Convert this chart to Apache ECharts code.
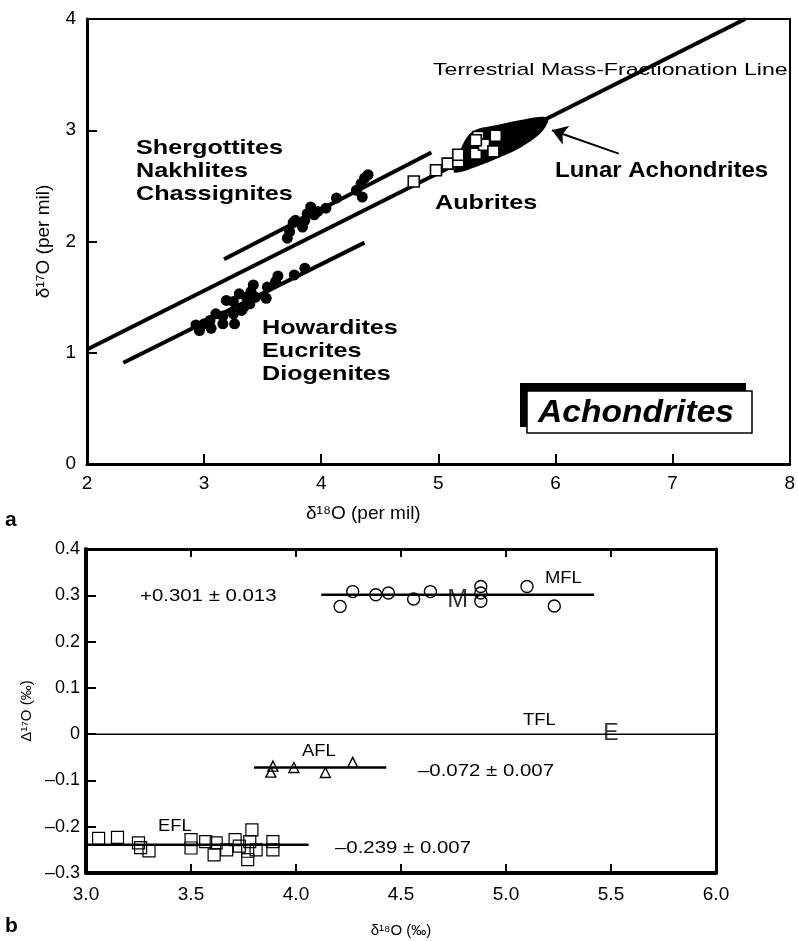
<!DOCTYPE html>
<html>
<head>
<meta charset="utf-8">
<script src="https://cdn.jsdelivr.net/npm/echarts@6/dist/echarts.min.js"></script>
<style>html,body{margin:0;padding:0;background:#fff}#c{width:798px;height:941px}</style>
</head>
<body>
<div id="c"></div>
<script>
// ---------- Panel a data ----------
const sncX = [3.71,3.73,3.76,3.78,3.84,3.86,3.88,3.91,3.94,3.97,4.04,4.13,4.30,4.34,4.35,4.37,4.40];
const sncY = [2.03,2.09,2.17,2.19,2.13,2.19,2.25,2.31,2.24,2.27,2.30,2.39,2.46,2.52,2.40,2.57,2.60];
const hedX = [3.86,3.77,3.63,3.61,3.54,3.42,3.40,3.53,3.44,3.36,3.30,3.25,3.19,3.34,3.25,3.16,3.10,3.05,3.00,2.96,3.06,3.16,3.26,2.93,3.32,3.39];
const hedY = [1.76,1.70,1.69,1.64,1.59,1.61,1.55,1.49,1.50,1.50,1.53,1.46,1.47,1.41,1.35,1.33,1.35,1.29,1.26,1.20,1.22,1.26,1.26,1.25,1.38,1.44];
const aubX = [4.79,4.98,5.08,5.17,5.17,5.32,5.34,5.39,5.47,5.49,5.32];
const aubY = [2.54,2.64,2.70,2.72,2.78,2.79,2.94,2.87,2.81,2.95,2.91];
const lunarX = [5.13,5.27,5.51,5.74,5.91,5.94,5.87,5.71,5.51,5.32,5.17];
const lunarY = [2.63,2.97,3.05,3.10,3.12,3.09,2.97,2.85,2.75,2.67,2.62];
const arrowX = [6.54,5.97];
const arrowY = [2.79,3.00];
const tflAX = [2.0,7.62], tflAY = [1.03,4.0];
const sncLineX = [3.17,4.94], sncLineY = [1.84,2.80];
const hedLineX = [2.31,4.37], hedLineY = [0.91,1.99];
const aXTicks = [2,3,4,5,6,7,8];
const aYTicks = [0,1,2,3,4];

// ---------- Panel b data ----------
const mflX = [4.21,4.27,4.38,4.44,4.56,4.64,4.88,4.88,4.88,5.10,5.23];
const mflY = [0.276,0.308,0.301,0.305,0.292,0.308,0.319,0.305,0.287,0.319,0.277];
const aflX = [3.88,3.89,3.99,4.14,4.27];
const aflY = [-0.082,-0.069,-0.072,-0.083,-0.061];
const eflX = [3.06,3.15,3.25,3.26,3.30,3.50,3.50,3.57,3.62,3.61,3.67,3.71,3.73,3.77,3.79,3.78,3.77,3.81,3.89,3.89];
const eflY = [-0.225,-0.223,-0.235,-0.245,-0.252,-0.228,-0.246,-0.232,-0.235,-0.261,-0.250,-0.228,-0.242,-0.253,-0.207,-0.232,-0.271,-0.250,-0.232,-0.250];
const mflLineX = [4.12,5.42], mflVal = 0.301;
const tflBLineX = [3.0,6.0], tflVal = 0;
const aflLineX = [3.80,4.43], aflVal = -0.072;
const eflLineX = [3.0,4.06], eflVal = -0.239;
const marsPt = [4.77,0.29];
const earthPt = [5.5,0];
const bXTicks = [3.0,3.5,4.0,4.5,5.0,5.5,6.0];
const bYTicks = [-0.3,-0.2,-0.1,0,0.1,0.2,0.3,0.4];

const FONT = "'Liberation Sans', Arial, Helvetica, sans-serif";
const zip = (xs, ys) => xs.map((x, i) => [x, ys[i]]);
const hline = (xs, v) => xs.map(x => [x, v]);

function lineSeries(xi, yi, data, w) {
  return {type:'line', xAxisIndex:xi, yAxisIndex:yi, data, showSymbol:false, symbol:'none',
    lineStyle:{color:'#000', width:w, opacity:1}, z:2, silent:true, animation:false};
}
function scatterSeries(xi, yi, data, symbol, size, filled, bw) {
  return {type:'scatter', xAxisIndex:xi, yAxisIndex:yi, data, symbol, symbolSize:size, silent:true,
    itemStyle: filled === 'black' ? {color:'#000', opacity:1} :
      (filled === 'white' ? {color:'#fff', borderColor:'#000', borderWidth:bw, opacity:1} :
       {color:'rgba(0,0,0,0)', borderColor:'#000', borderWidth:bw, opacity:1}), z:4};
}
const fmtB = v => Math.abs(v) < 1e-9 ? '0' : (v < 0 ? '\u2013' + Math.abs(v).toFixed(1) : v.toFixed(1));

function mkX(grid, min, max, interval, pos, opts) {
  return Object.assign({gridIndex:grid, type:'value', min, max, interval, position:pos,
    axisLine:{show:true, onZero:false, lineStyle:{color:'#000', width:3}},
    axisTick:{show:false}, axisLabel:{show:false}, splitLine:{show:false}}, opts || {});
}
function txt(x, y, text, size, opt) {
  opt = opt || {};
  return {type:'text', x, y, scaleX: opt.sx || 1, z:10,
    style:{text, fontSize:size, fontWeight:opt.bold ? 'bold' : 'normal', fontStyle:opt.italic ? 'italic' : 'normal',
      fontFamily:FONT, fill:'#000', align:opt.align || 'left', verticalAlign:'middle'}};
}

const chart = echarts.init(document.getElementById('c'), null, {renderer:'canvas'});
const option = {
  animation:false,
  backgroundColor:'#fff',
  grid:[
    {left:87, top:19, width:705, height:445},
    {left:86, top:549, width:630, height:324}
  ],
  xAxis:[
    mkX(0, aXTicks[0], aXTicks[aXTicks.length-1], 1, 'bottom', {
      axisTick:{show:true, inside:true, length:10, lineStyle:{color:'#000', width:2}},
      axisLabel:{show:true, color:'#000', fontSize:19, fontFamily:FONT, margin:10},
      name:'\u03b4\u00b9\u2078O (per mil)', nameLocation:'middle', nameGap:40,
      nameTextStyle:{color:'#000', fontSize:19, fontFamily:FONT, padding:[0,150,0,0]}}),
    mkX(0, aXTicks[0], aXTicks[aXTicks.length-1], 1, 'top', {axisLine:{show:true, onZero:false, lineStyle:{color:'#000', width:2}}}),
    mkX(1, bXTicks[0], bXTicks[bXTicks.length-1], 0.5, 'bottom', {
      axisLine:{show:true, onZero:false, lineStyle:{color:'#000', width:4}},
      axisTick:{show:true, inside:true, length:9, lineStyle:{color:'#000', width:2}},
      axisLabel:{show:true, color:'#000', fontSize:19, fontFamily:FONT, margin:12, formatter:v => v.toFixed(1)},
      name:'\u03b4\u00b9\u2078O (\u2030)', nameLocation:'middle', nameGap:50,
      nameTextStyle:{color:'#000', fontSize:15, fontFamily:FONT}}),
    mkX(1, bXTicks[0], bXTicks[bXTicks.length-1], 0.5, 'top', {
      axisLine:{show:true, onZero:false, lineStyle:{color:'#000', width:3}},
      axisTick:{show:true, inside:true, length:8, lineStyle:{color:'#000', width:2}}})
  ],
  yAxis:[
    mkX(0, aYTicks[0], aYTicks[aYTicks.length-1], 1, 'left', {
      axisTick:{show:true, inside:true, length:10, lineStyle:{color:'#000', width:2}},
      axisLabel:{show:true, color:'#000', fontSize:19, fontFamily:FONT, margin:11},
      name:'\u03b4\u00b9\u2077O (per mil)', nameLocation:'middle', nameGap:34, nameRotate:90,
      nameTextStyle:{color:'#000', fontSize:19, fontFamily:FONT}}),
    mkX(0, aYTicks[0], aYTicks[aYTicks.length-1], 1, 'right', {axisLine:{show:true, onZero:false, lineStyle:{color:'#000', width:2}}}),
    mkX(1, bYTicks[0], bYTicks[bYTicks.length-1], 0.1, 'left', {
      axisLine:{show:true, onZero:false, lineStyle:{color:'#000', width:4}},
      axisTick:{show:true, inside:true, length:10, lineStyle:{color:'#000', width:2}},
      axisLabel:{show:true, color:'#000', fontSize:18, fontFamily:FONT, margin:6, formatter:fmtB},
      name:'\u0394\u00b9\u2077O (\u2030)', nameLocation:'middle', nameGap:52, nameRotate:90,
      nameTextStyle:{color:'#000', fontSize:15, fontFamily:FONT}}),
    mkX(1, bYTicks[0], bYTicks[bYTicks.length-1], 0.1, 'right', {axisLine:{show:true, onZero:false, lineStyle:{color:'#000', width:3}}})
  ],
  series:[
    lineSeries(0,0, zip(tflAX, tflAY), 4),
    lineSeries(0,0, zip(sncLineX, sncLineY), 4),
    lineSeries(0,0, zip(hedLineX, hedLineY), 4),
    scatterSeries(0,0, zip(sncX, sncY), 'circle', 11, 'black'),
    scatterSeries(0,0, zip(hedX, hedY), 'circle', 11, 'black'),
    {type:'custom', xAxisIndex:0, yAxisIndex:0, silent:true, z:3,
      data:[[lunarX[0], lunarY[0]]],
      renderItem:(params, api) => ({type:'polygon',
        shape:{points: lunarX.map((x, i) => api.coord([x, lunarY[i]])), smooth:0.35},
        style:{fill:'#000'}})},
    scatterSeries(0,0, zip(aubX, aubY), 'rect', 11, 'white', 1.6),
    {type:'line', xAxisIndex:0, yAxisIndex:0, data:[[arrowX[0], arrowY[0]]], symbol:'none', lineStyle:{width:0}, silent:true,
      markLine:{silent:true, symbol:['none','arrow'], symbolSize:15, animation:false,
        lineStyle:{color:'#000', width:2, type:'solid', opacity:1}, label:{show:false},
        data:[[{coord:[arrowX[0], arrowY[0]]},{coord:[arrowX[1], arrowY[1]]}]]}},
    // panel b
    lineSeries(2,2, hline(tflBLineX, tflVal), 1.5),
    lineSeries(2,2, hline(mflLineX, mflVal), 2.5),
    lineSeries(2,2, hline(aflLineX, aflVal), 2.5),
    lineSeries(2,2, hline(eflLineX, eflVal), 2.5),
    scatterSeries(2,2, zip(mflX, mflY), 'circle', 12, 'none', 1.4),
    scatterSeries(2,2, zip(aflX, aflY), 'triangle', 10, 'none', 1.4),
    scatterSeries(2,2, zip(eflX, eflY), 'rect', 12, 'none', 1.2),
    {type:'scatter', xAxisIndex:2, yAxisIndex:2, data:[marsPt], symbolSize:1, itemStyle:{color:'rgba(0,0,0,0)'}, silent:true,
      label:{show:true, position:'inside', formatter:'M', color:'#000', fontSize:25, fontFamily:FONT}},
    {type:'scatter', xAxisIndex:2, yAxisIndex:2, data:[earthPt], symbolSize:1, itemStyle:{color:'rgba(0,0,0,0)'}, silent:true,
      label:{show:true, position:'inside', formatter:'E', color:'#000', fontSize:23, fontFamily:FONT}}
  ],
  graphic:[
    txt(433, 70, 'Terrestrial Mass-Fractionation Line', 17, {sx:1.36}),
    txt(136, 148, 'Shergottites', 21, {bold:true, sx:1.2}),
    txt(136, 171, 'Nakhlites', 21, {bold:true, sx:1.2}),
    txt(136, 194, 'Chassignites', 21, {bold:true, sx:1.2}),
    txt(262, 328, 'Howardites', 21, {bold:true, sx:1.2}),
    txt(262, 351, 'Eucrites', 21, {bold:true, sx:1.2}),
    txt(262, 374, 'Diogenites', 21, {bold:true, sx:1.2}),
    txt(435, 203, 'Aubrites', 21, {bold:true, sx:1.2}),
    txt(555, 171, 'Lunar Achondrites', 22, {bold:true, sx:1.09}),
    {type:'rect', shape:{x:520, y:383, width:226, height:44}, style:{fill:'#000'}},
    {type:'rect', shape:{x:527, y:391, width:225, height:42}, style:{fill:'#fff', stroke:'#000', lineWidth:1.5}},
    txt(636, 413, 'Achondrites', 32, {bold:true, italic:true, align:'center', sx:1.05}),
    txt(5, 520, 'a', 21, {bold:true}),
    txt(5, 926, 'b', 21, {bold:true}),
    txt(140, 596, '+0.301 \u00b1 0.013', 17, {sx:1.2}),
    txt(545, 579, 'MFL', 16, {sx:1.15}),
    txt(523, 721, 'TFL', 16, {sx:1.15}),
    txt(302, 752, 'AFL', 16, {sx:1.15}),
    txt(418, 771, '\u20130.072 \u00b1 0.007', 17, {sx:1.2}),
    txt(158, 827, 'EFL', 16, {sx:1.15}),
    txt(335, 848, '\u20130.239 \u00b1 0.007', 17, {sx:1.2})
  ]
};
chart.setOption(option);
</script>
</body>
</html>
